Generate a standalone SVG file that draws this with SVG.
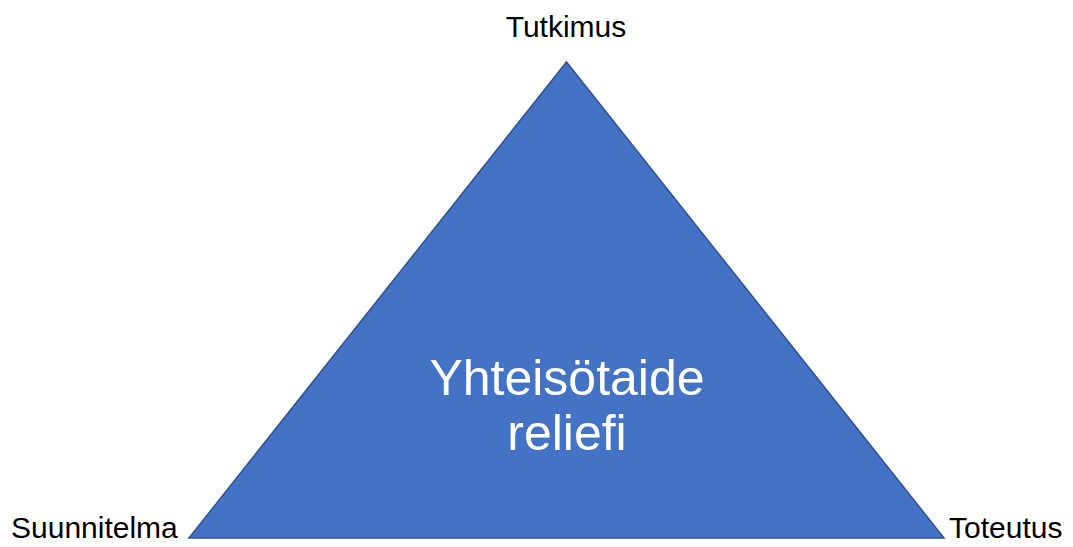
<svg xmlns="http://www.w3.org/2000/svg" width="1073" height="547" viewBox="0 0 1073 547">
<style>
.lbl{font-family:"Liberation Sans",Arial,sans-serif;font-size:30px;fill:#000;}
.ctr{font-family:"Liberation Sans",Arial,sans-serif;font-size:50px;fill:#fff;text-anchor:middle;}
</style>
<rect width="1073" height="547" fill="#fff"/>
<g id="triangle">
<polygon points="566.5,62 189,538 944,538" fill="#4472C4" stroke="#2F528F" stroke-width="1.5" stroke-linejoin="miter"/>
<text class="ctr" x="567" y="395">Yhteisötaide</text>
<text class="ctr" x="567" y="450">reliefi</text>
</g>
<g id="tutkimus"><text class="lbl" x="566" y="37" text-anchor="middle">Tutkimus</text></g>
<g id="suunnitelma"><text class="lbl" x="11" y="538">Suunnitelma</text></g>
<g id="toteutus"><text class="lbl" x="949" y="538">Toteutus</text></g>
<g id="connectors"></g>
</svg>
